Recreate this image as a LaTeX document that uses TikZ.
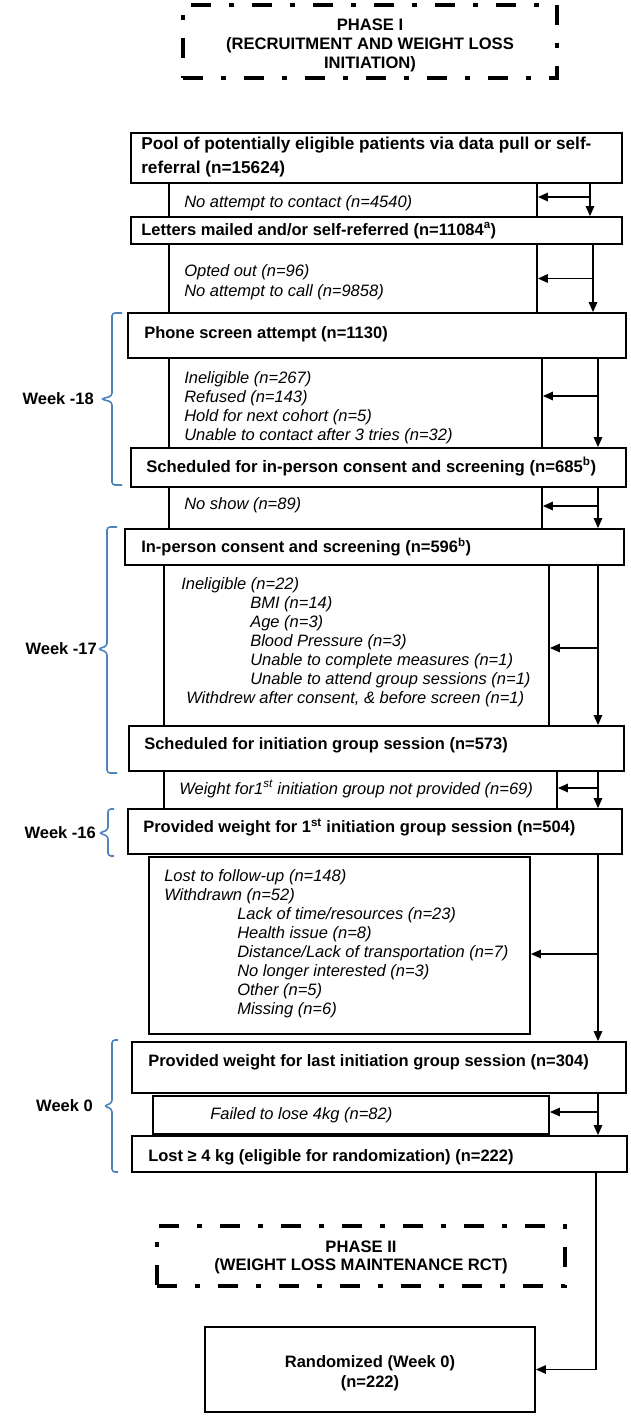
\documentclass[tikz,border=0pt]{standalone}
\usepackage{fontspec}
\setmainfont{Liberation Sans}
\usetikzlibrary{arrows.meta,calc}
\definecolor{bracecol}{RGB}{79,129,189}
\newcommand{\wkbrace}[6]{\draw[brace] (#5,#2) -- (#1,#2) -- (#1,{#3-3}) -- (#6,#3) -- (#1,{#3+3}) -- (#1,#4) -- (#5,#4);}
\begin{document}
\begin{tikzpicture}[x=1pt,y=-1pt]
\tikzset{
  box/.style={draw, line width=1.8pt, inner sep=0pt},
  phase/.style={draw, line width=4pt, dash pattern=on 20pt off 18pt on 5pt off 18pt, inner sep=0pt},
  ptxt/.style={inner sep=0pt, align=center, font=\fontsize{16.6}{18.8}\selectfont\bfseries},
  btxt/.style={inner sep=0pt, align=left, anchor=west, font=\fontsize{16.5}{19}\selectfont\bfseries},
  itxt/.style={inner sep=0pt, align=left, anchor=west, font=\fontsize{16.5}{19}\selectfont\itshape},
  arr/.style={line width=1.4pt, -{Triangle[length=10pt,width=8.5pt]}},
  brace/.style={draw=bracecol, line width=1.6pt, rounded corners=3pt},
  week/.style={inner sep=0pt, anchor=east, font=\fontsize{16.5}{19}\selectfont\bfseries},
}
\useasboundingbox (0,0) rectangle (631,1419);

% Phase boxes
\node[phase, minimum width=374pt, minimum height=73pt] (ph1) at (370,41.5) {};
\node[ptxt] (pt1) at ([yshift=-4pt]ph1.center) {PHASE I\\(RECRUITMENT AND WEIGHT LOSS\\INITIATION)};
\node[phase, minimum width=408pt, minimum height=60pt] (ph2) at (361,1256) {};
\node[ptxt] (pt2) at ([yshift=-1.5pt]ph2.center) {PHASE II\\(WEIGHT LOSS MAINTENANCE RCT)};

% exclusion boxes
\node[box, minimum width=368pt, minimum height=34pt] (e1) at (353,200) {};
\node[box, minimum width=368pt, minimum height=69pt] (e2) at (353,278.5) {};
\node[box, minimum width=373pt, minimum height=90pt] (e3) at (355.5,403) {};
\node[box, minimum width=373pt, minimum height=42pt] (e4) at (355.5,508) {};
\node[box, minimum width=385pt, minimum height=161pt] (e5) at (356.5,645.5) {};
\node[box, minimum width=393pt, minimum height=38pt] (e6) at (360.5,790) {};
\node[box, minimum width=381pt, minimum height=177pt] (e7) at (339.5,945.5) {};
\node[box, minimum width=396pt, minimum height=38pt] (e8) at (351,1115) {};

% main boxes
\node[box, minimum width=491pt, minimum height=50pt] (b1) at (376.5,158) {};
\node[box, minimum width=491pt, minimum height=27pt] (b2) at (376.5,230.5) {};
\node[box, minimum width=498pt, minimum height=45pt] (b3) at (377,335.5) {};
\node[box, minimum width=495pt, minimum height=39pt] (b4) at (378.5,467.5) {};
\node[box, minimum width=499pt, minimum height=36pt] (b5) at (374.5,547) {};
\node[box, minimum width=495pt, minimum height=45pt] (b6) at (376.5,748.5) {};
\node[box, minimum width=494pt, minimum height=45pt] (b7) at (375,831.5) {};
\node[box, minimum width=494pt, minimum height=51pt] (b8) at (379,1067.5) {};
\node[box, minimum width=495pt, minimum height=36pt] (b9) at (379.5,1154) {};
\node[box, minimum width=330pt, minimum height=85pt] (rand) at (370,1369.5) {};
\node[ptxt, font=\fontsize{16.5}{20}\selectfont\bfseries] (rt) at ([yshift=-4pt]rand.center) {Randomized (Week 0)\\(n=222)};

% main texts
\node[btxt, font=\fontsize{17.2}{24}\selectfont\bfseries] (t1) at ([xshift=11pt,yshift=1pt]b1.west) {Pool of potentially eligible patients via data pull or self-\\referral (n=15624)};
\node[btxt] (t2) at ([xshift=11pt]b2.west) {Letters mailed and/or self-referred (n=11084\textsuperscript{a})};
\node[btxt] (t3) at ([xshift=17pt,yshift=1pt]b3.west) {Phone screen attempt (n=1130)};
\node[btxt, font=\fontsize{16.7}{19}\selectfont\bfseries] (t4) at ([xshift=16pt,yshift=1pt]b4.west) {Scheduled for in-person consent and screening (n=685\textsuperscript{b})};
\node[btxt] (t5) at ([xshift=17pt]b5.west) {In-person consent and screening (n=596\textsuperscript{b})};
\node[btxt] (t6) at ([xshift=16pt,yshift=3.5pt]b6.west) {Scheduled for initiation group session (n=573)};
\node[btxt] (t7) at ([xshift=16pt,yshift=4pt]b7.west) {Provided weight for 1\textsuperscript{st} initiation group session (n=504)};
\node[btxt] (t8) at ([xshift=17pt,yshift=5.5pt]b8.west) {Provided weight for last initiation group session (n=304)};
\node[btxt] (t9) at ([xshift=17pt,yshift=-3pt]b9.west) {Lost ≥ 4 kg (eligible for randomization) (n=222)};

% exclusion texts
\node[itxt] (et1) at ([xshift=16pt,yshift=-3pt]e1.west) {No attempt to contact (n=4540)};
\node[itxt, font=\fontsize{16.5}{20}\selectfont\itshape] (et2) at ([xshift=16pt,yshift=-3.5pt]e2.west) {Opted out (n=96)\\No attempt to call (n=9858)};
\node[itxt] (et3) at ([xshift=16pt,yshift=-4.5pt]e3.west) {Ineligible (n=267)\\Refused (n=143)\\Hold for next cohort (n=5)\\Unable to contact after 3 tries (n=32)};
\node[itxt] (et4) at ([xshift=16pt,yshift=3pt]e4.west) {No show (n=89)};
\node[itxt] (et5) at ([xshift=18pt,yshift=3pt]e5.west) {Ineligible (n=22)\\
\hspace*{69pt}BMI (n=14)\\
\hspace*{69pt}Age (n=3)\\
\hspace*{69pt}Blood Pressure (n=3)\\
\hspace*{69pt}Unable to complete measures (n=1)\\
\hspace*{69pt}Unable to attend group sessions (n=1)\\
\hspace*{5pt}Withdrew after consent, \& before screen (n=1)};
\node[itxt] (et6) at ([xshift=16pt,yshift=1pt]e6.west) {Weight for1\textsuperscript{st} initiation group not provided (n=69)};
\node[itxt] (et7) at ([xshift=16pt,yshift=1.5pt]e7.west) {Lost to follow-up (n=148)\\Withdrawn (n=52)\\
\hspace*{73pt}Lack of time/resources (n=23)\\
\hspace*{73pt}Health issue (n=8)\\
\hspace*{73pt}Distance/Lack of transportation (n=7)\\
\hspace*{73pt}No longer interested (n=3)\\
\hspace*{73pt}Other (n=5)\\
\hspace*{73pt}Missing (n=6)};
\node[itxt] (et8) at ([xshift=58pt]e8.west) {Failed to lose 4kg (n=82)};

% arrow columns
\coordinate (ax1) at (590,0);
\coordinate (ax2) at (593,0);
\coordinate (ax3) at (598,0);
\coordinate (ax9) at (596,0);
% horizontal arrow heights
\coordinate (h1) at ([yshift=3pt]e1.east);
\coordinate (h2) at (e2.east);
\coordinate (h3) at ([yshift=7pt]e3.east);
\coordinate (h4) at ([yshift=2pt]e4.east);
\coordinate (h5) at ([yshift=-2.5pt]e5.east);
\coordinate (h6) at ([yshift=2pt]e6.east);
\coordinate (h7) at ([yshift=-8.5pt]e7.east);
\coordinate (h8) at ([yshift=3pt]e8.east);

\draw[arr] (b1.south -| ax1) -- (b2.north -| ax1);
\draw[arr] (h1 -| ax1) -- (h1);
\draw[arr] (b2.south -| ax2) -- (b3.north -| ax2);
\draw[arr] (h2 -| ax2) -- (h2);
\draw[arr] (b3.south -| ax3) -- (b4.north -| ax3);
\draw[arr] (h3 -| ax3) -- (h3);
\draw[arr] (b4.south -| ax3) -- (b5.north -| ax3);
\draw[arr] (h4 -| ax3) -- (h4);
\draw[arr] (b5.south -| ax3) -- (b6.north -| ax3);
\draw[arr] (h5 -| ax3) -- (h5);
\draw[arr] (b6.south -| ax3) -- (b7.north -| ax3);
\draw[arr] (h6 -| ax3) -- (h6);
\draw[arr] (b7.south -| ax3) -- (b8.north -| ax3);
\draw[arr] (h7 -| ax3) -- (h7);
\draw[arr] (b8.south -| ax3) -- (b9.north -| ax3);
\draw[arr] (h8 -| ax3) -- (h8);
\draw[arr] (b9.south -| ax9) |- (rand.east);

% week braces and labels
\wkbrace{112}{313}{399}{485}{122}{101}
\wkbrace{107}{527}{649}{773}{117}{98}
\wkbrace{108}{809}{833}{856}{114}{99}
\wkbrace{112}{1040}{1106}{1172}{118}{104}
\node[week] (w18) at (94,399) {Week -18};
\node[week] (w17) at (97,649) {Week -17};
\node[week] (w16) at (96,833) {Week -16};
\node[week] (w0) at (93,1106) {Week 0};
\end{tikzpicture}
\end{document}
